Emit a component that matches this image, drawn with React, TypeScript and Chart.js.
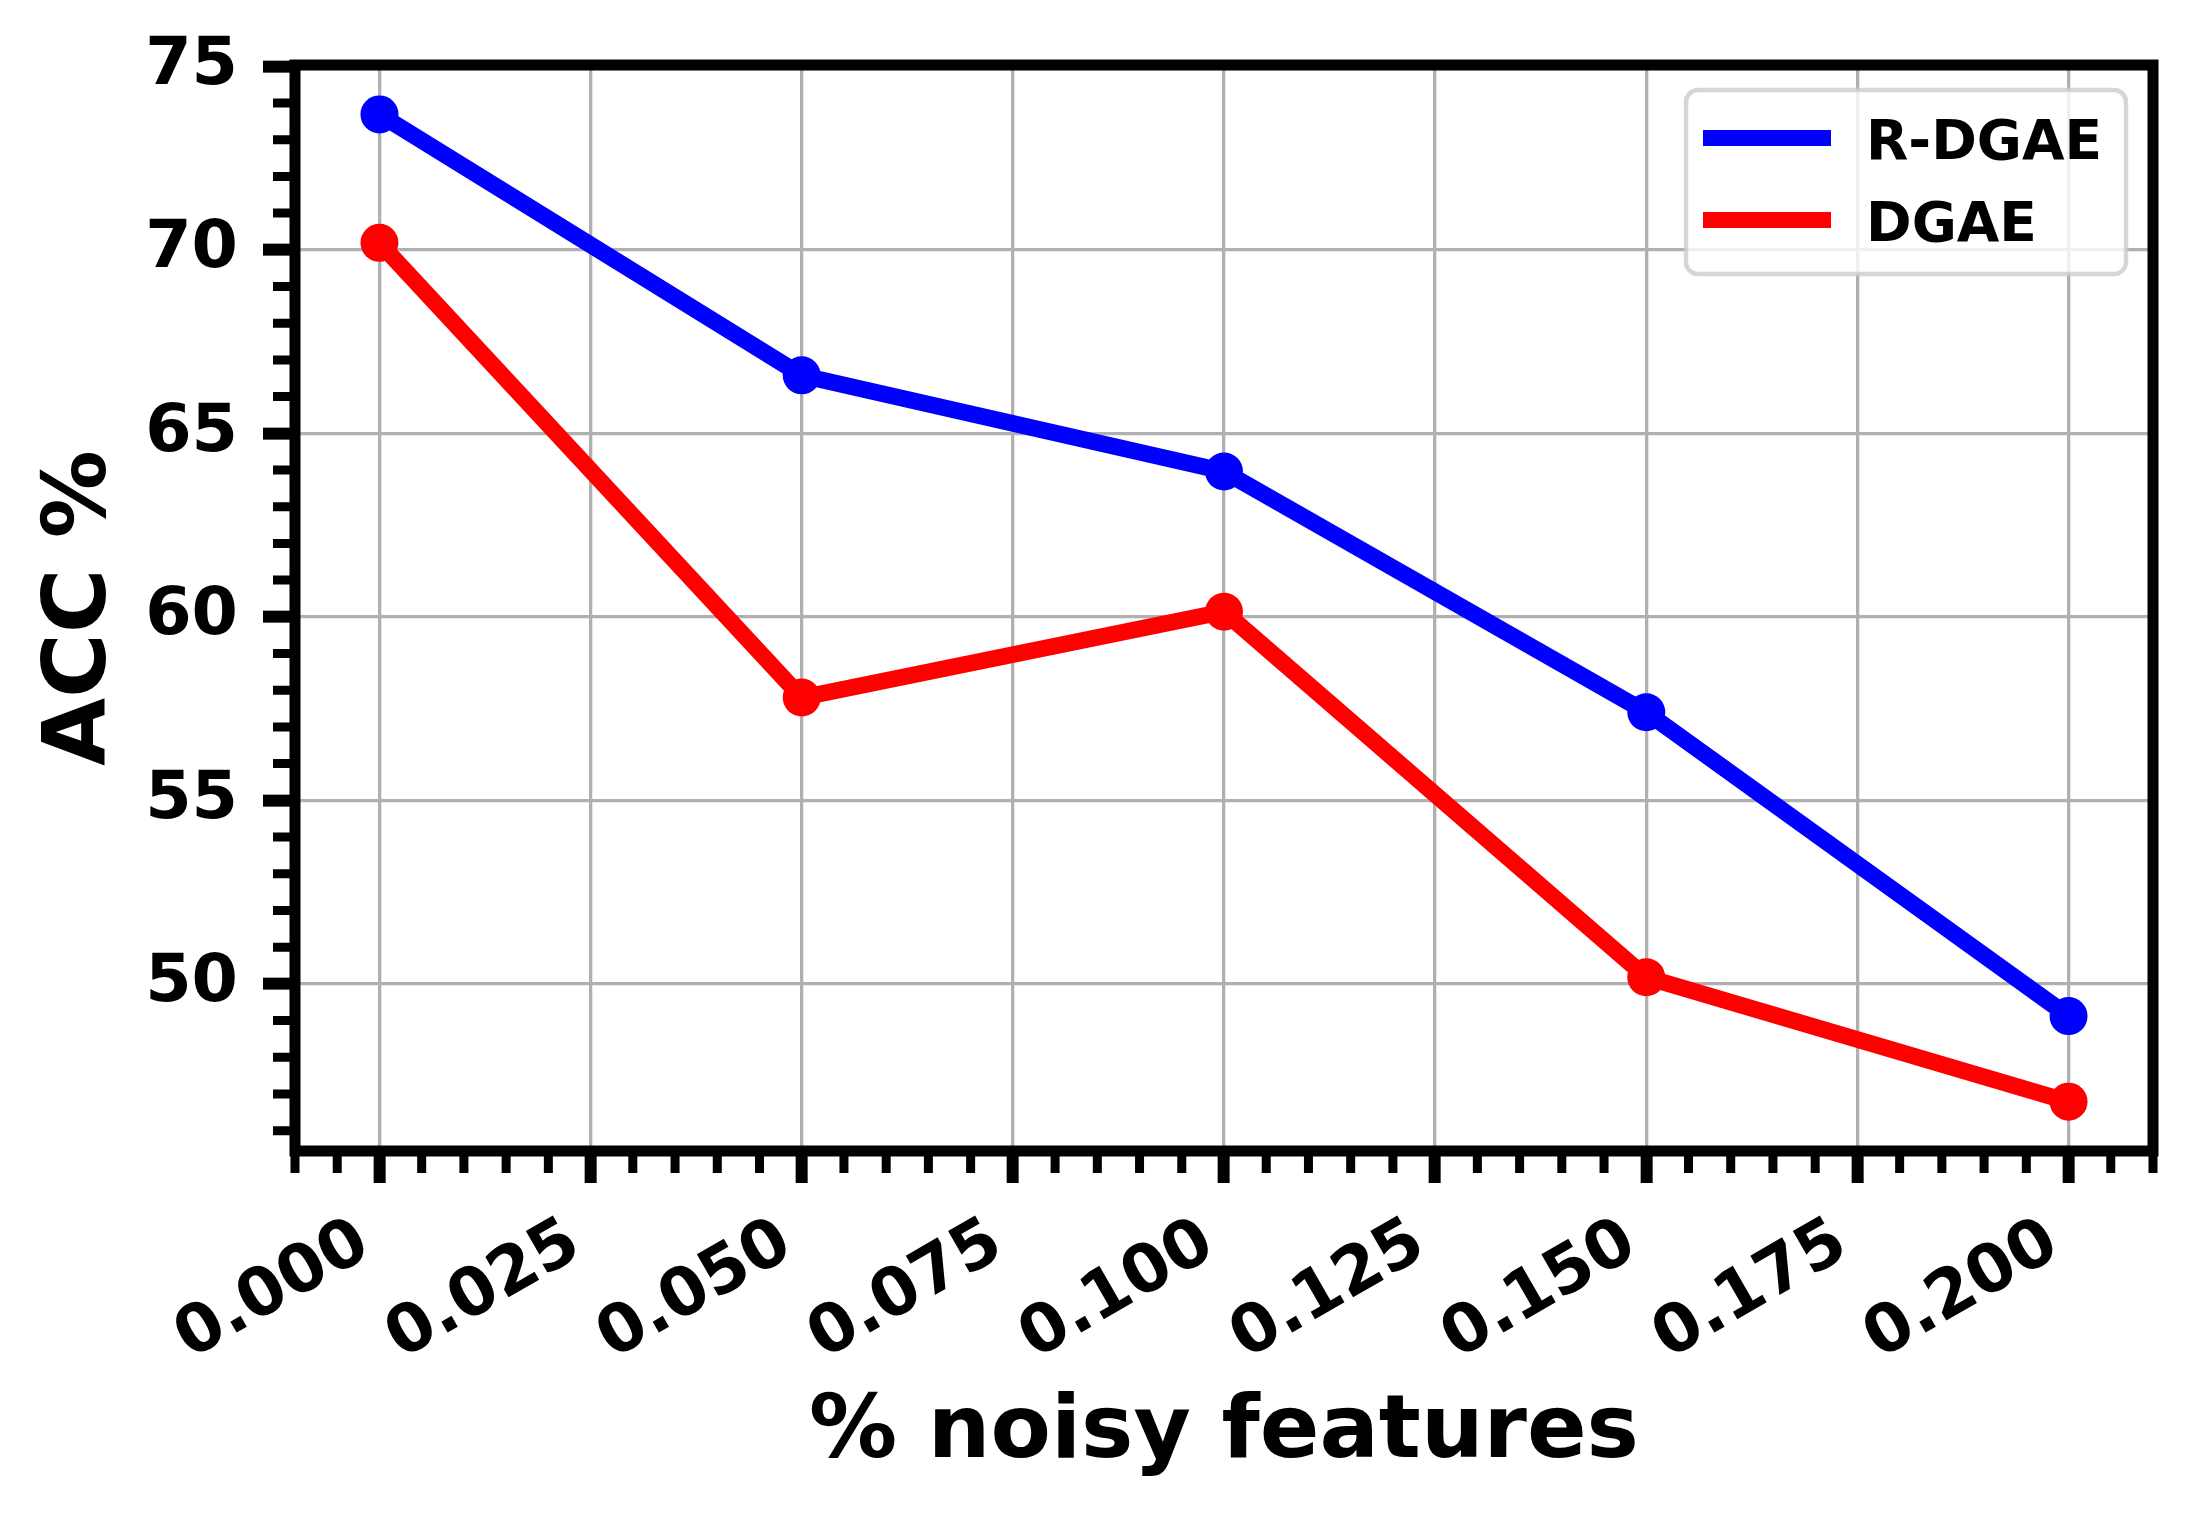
import React, { useEffect, useRef } from 'react';
import { Chart, registerables } from 'chart.js';

Chart.register(...registerables);

// ---- data ----
const NOISE_LEVELS = [0, 0.05, 0.1, 0.15, 0.2];
const R_DGAE_ACC = [73.69, 66.58, 63.96, 57.4, 49.12];
const DGAE_ACC = [70.19, 57.8, 60.14, 50.18, 46.79];
const SERIES_LABELS = ['R-DGAE', 'DGAE'];
const SERIES_COLORS = ['#0000ff', '#ff0000'];
const X_TICKS = [0, 0.025, 0.05, 0.075, 0.1, 0.125, 0.15, 0.175, 0.2];
const Y_TICKS = [50, 55, 60, 65, 70, 75];
const X_RANGE = [-0.01, 0.21];
const Y_RANGE = [45.445, 75.035];
const X_MINOR_STEP = 0.005;
const Y_MINOR_STEP = 1;
const X_TITLE = '% noisy features';
const Y_TITLE = 'ACC %';

const FONT = 'DejaVu Sans';

const boxPlugin = {
  id: 'mplBox',
  afterDatasetsDraw(chart: any) {
    const { ctx, chartArea: a, scales } = chart;
    const xs = scales.x;
    const ys = scales.y;
    ctx.save();
    // minor ticks
    ctx.strokeStyle = '#000';
    ctx.lineWidth = 9;
    ctx.lineCap = 'butt';
    ctx.beginPath();
    const nx = Math.round((X_RANGE[1] - X_RANGE[0]) / X_MINOR_STEP);
    for (let i = 0; i <= nx; i++) {
      const v = X_RANGE[0] + i * X_MINOR_STEP;
      if (X_TICKS.some((t) => Math.abs(t - v) < 1e-9)) continue;
      const px = xs.getPixelForValue(v);
      ctx.moveTo(px, a.bottom);
      ctx.lineTo(px, a.bottom + 22);
    }
    const y0 = Math.ceil(Y_RANGE[0]);
    for (let v = y0; v <= Y_RANGE[1]; v += Y_MINOR_STEP) {
      if (Y_TICKS.includes(v)) continue;
      const py = ys.getPixelForValue(v);
      ctx.moveTo(a.left, py);
      ctx.lineTo(a.left - 22, py);
    }
    ctx.stroke();
    // spines
    ctx.lineWidth = 11;
    ctx.lineJoin = 'miter';
    ctx.strokeRect(a.left, a.top, a.right - a.left, a.bottom - a.top);

    // legend
    const bw = 440;
    const bh = 184;
    const bx = a.right - 27 - bw;
    const by = a.top + 25;
    const r = 12;
    ctx.beginPath();
    ctx.moveTo(bx + r, by);
    ctx.lineTo(bx + bw - r, by);
    ctx.arcTo(bx + bw, by, bx + bw, by + r, r);
    ctx.lineTo(bx + bw, by + bh - r);
    ctx.arcTo(bx + bw, by + bh, bx + bw - r, by + bh, r);
    ctx.lineTo(bx + r, by + bh);
    ctx.arcTo(bx, by + bh, bx, by + bh - r, r);
    ctx.lineTo(bx, by + r);
    ctx.arcTo(bx, by, bx + r, by, r);
    ctx.closePath();
    ctx.fillStyle = 'rgba(255,255,255,0.8)';
    ctx.fill();
    ctx.lineWidth = 4.5;
    ctx.strokeStyle = 'rgba(204,204,204,0.8)';
    ctx.stroke();

    const ds = chart.data.datasets;
    ctx.font = `bold 55px "${FONT}"`;
    ctx.textAlign = 'left';
    ctx.textBaseline = 'alphabetic';
    for (let i = 0; i < ds.length; i++) {
      const cy = by + 48 + i * 82;
      ctx.strokeStyle = ds[i].borderColor;
      ctx.lineWidth = 16;
      ctx.lineCap = 'butt';
      ctx.beginPath();
      ctx.moveTo(bx + 17, cy);
      ctx.lineTo(bx + 145, cy);
      ctx.stroke();
      ctx.fillStyle = '#000';
      ctx.fillText(ds[i].label, bx + 180, cy + 21);
    }
    ctx.restore();
  },
};

export default function App() {
  const ref = useRef<HTMLCanvasElement | null>(null);

  useEffect(() => {
    if (!ref.current) return;
    Chart.defaults.font.family = FONT;
    const seriesValues = [R_DGAE_ACC, DGAE_ACC];
    const chart = new Chart(ref.current, {
      type: 'line',
      data: {
        datasets: SERIES_LABELS.map((label, i) => ({
          label,
          data: NOISE_LEVELS.map((x, j) => ({ x, y: seriesValues[i][j] })),
          borderColor: SERIES_COLORS[i],
          backgroundColor: SERIES_COLORS[i],
          pointBackgroundColor: SERIES_COLORS[i],
          pointBorderWidth: 0,
          pointRadius: 19,
          pointHoverRadius: 19,
          borderWidth: 16.7,
          borderJoinStyle: 'round',
          tension: 0,
          order: SERIES_LABELS.length - i,
        })),
      },
      plugins: [boxPlugin],
      options: {
        responsive: false,
        animation: false,
        events: [],
        layout: { padding: { left: 0, top: 63, right: 41, bottom: 0 } },
        plugins: {
          legend: { display: false },
          tooltip: { enabled: false },
          title: { display: false },
        },
        scales: {
          x: {
            type: 'linear',
            min: X_RANGE[0],
            max: X_RANGE[1],
            afterBuildTicks: (s: any) => {
              s.ticks = X_TICKS.map((v) => ({ value: v }));
            },
            afterFit: (s: any) => {
              s.height = 369;
            },
            border: { display: false },
            grid: {
              color: '#b0b0b0',
              lineWidth: 3.3,
              drawTicks: true,
              tickLength: 32,
              tickWidth: 12,
              tickColor: '#000',
            },
            ticks: {
              autoSkip: false,
              minRotation: 30,
              maxRotation: 30,
              padding: 21,
              labelOffset: -15,
              color: '#000',
              font: { size: 66.7, weight: 'bold', family: FONT },
              callback: (v: any) => Number(v).toFixed(3),
            },
            title: {
              display: true,
              text: X_TITLE,
              color: '#000',
              font: { size: 88, weight: 'bold', family: FONT },
              padding: { top: 0, bottom: 33 },
            },
          },
          y: {
            type: 'linear',
            min: Y_RANGE[0],
            max: Y_RANGE[1],
            afterBuildTicks: (s: any) => {
              s.ticks = Y_TICKS.map((v) => ({ value: v }));
            },
            afterFit: (s: any) => {
              s.width = 295;
            },
            border: { display: false },
            grid: {
              color: '#b0b0b0',
              lineWidth: 3.3,
              drawTicks: true,
              tickLength: 32,
              tickWidth: 12,
              tickColor: '#000',
            },
            ticks: {
              autoSkip: false,
              padding: 25,
              color: '#000',
              font: { size: 66.7, weight: 'bold', family: FONT },
              callback: (v: any) => String(Math.round(Number(v))),
            },
            title: {
              display: true,
              text: Y_TITLE,
              color: '#000',
              font: { size: 88, weight: 'bold', family: FONT },
              padding: { top: 29, bottom: 0 },
            },
          },
        },
      } as any,
    });
    return () => chart.destroy();
  }, []);

  return (
    <div style={{ position: 'fixed', left: 0, top: 0, width: 2194, height: 1520, background: '#fff' }}>
      <canvas ref={ref} width={2194} height={1520} style={{ display: 'block', width: 2194, height: 1520 }} />
    </div>
  );
}
